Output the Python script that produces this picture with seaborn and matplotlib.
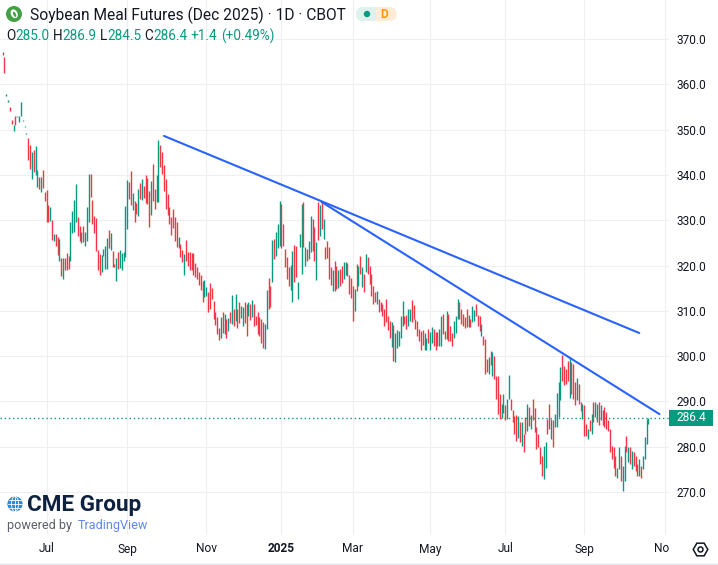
import numpy as np
import pandas as pd
import matplotlib
matplotlib.use("Agg")
import matplotlib.pyplot as plt
import seaborn as sns
from matplotlib.patches import Circle, Ellipse, FancyBboxPatch, Rectangle
from matplotlib.font_manager import FontProperties

# ---------------------------------------------------------------- data
title = "Soybean Meal Futures (Dec 2025) · 1D · CBOT"
last_date = "2025-10-21"
cbot_holidays = ["2024-06-19", "2024-07-04", "2024-09-02", "2024-11-28", "2024-12-25",
                 "2025-01-01", "2025-01-09", "2025-01-20", "2025-02-17", "2025-04-18",
                 "2025-05-26", "2025-06-19", "2025-07-04", "2025-09-01"]

opens = [
    # late May - Jun 2024
    367.2, 366.1, 357.5, 356.2, 355.0, 352.1, 349.8, 353.0, 352.8, 351.6, 352.9, 351.9,
    350.6, 349.0, 348.2, 346.6, 339.0, 345.4, 340.0, 337.3, 339.5, 336.3, 341.1, 336.3,
    # Jul - Aug 2024
    336.7, 333.4, 329.9, 330.1, 325.5, 327.0, 326.3, 321.1, 321.7, 317.1, 321.7, 322.8,
    322.1, 320.9, 327.1, 327.4, 329.7, 330.7, 328.7, 325.0, 328.7, 324.2, 325.3, 329.6,
    340.2, 334.5, 331.0, 330.5, 323.5, 322.6, 318.5, 322.1, 319.3, 319.3, 327.9, 323.5,
    323.2, 320.4, 316.5, 322.9, 319.4, 318.9, 320.9,
    # Sep - Oct 2024
    321.8, 328.1, 338.4, 340.8, 332.3, 334.3, 333.7, 331.0, 338.2, 334.5, 337.6, 339.9,
    339.3, 336.5, 331.2, 342.4, 336.9, 334.1, 334.1, 346.5, 345.0, 342.2, 339.1, 335.8,
    332.9, 330.7, 332.5, 330.7, 329.6, 323.8, 324.7, 323.5, 318.0, 325.6, 322.9, 322.9,
    322.8, 322.8, 320.6, 319.6, 318.5, 317.9, 316.6,
    # Nov - Dec 2024
    313.0, 313.2, 314.1, 316.1, 315.1, 312.2, 309.8, 308.7, 306.3, 304.1, 309.7, 304.9,
    308.2, 305.6, 309.7, 307.1, 310.4, 307.8, 310.5, 311.9, 308.4, 306.6, 311.9, 311.5,
    308.8, 311.5, 308.6, 311.5, 308.9, 309.7, 308.6, 308.3, 307.5, 301.6, 306.0, 317.2,
    315.5, 316.4, 325.8, 322.2, 323.9,
    # Jan - Feb 2025
    324.2, 333.6, 329.2, 323.6, 321.8, 319.6, 314.7, 312.0, 324.5, 324.4, 312.6, 324.0,
    318.1, 334.0, 320.0, 323.6, 321.4, 322.9, 330.3, 328.4, 316.9, 334.0, 326.6, 334.3,
    325.9, 324.0, 325.5, 324.0, 319.6, 314.4, 321.1, 319.8, 315.0, 319.2, 320.0, 317.0,
    317.8, 320.5, 317.8, 317.2,
    # Mar - Apr 2025
    315.5, 310.0, 320.3, 315.5, 322.2, 315.2, 318.1, 318.5, 321.8, 320.0, 318.1, 315.5,
    314.2, 311.5, 312.6, 311.9, 311.5, 310.5, 312.6, 308.9, 307.8, 301.9, 306.8, 298.8,
    301.7, 302.3, 303.9, 306.7, 308.8, 309.1, 306.7, 307.8, 312.4, 311.3, 308.2, 307.8,
    306.0, 305.6, 305.8, 301.4, 301.4, 306.0,
    # May - Jun 2025
    301.4, 302.9, 306.0, 305.4, 305.3, 302.2, 302.3, 309.3, 305.6, 303.8, 309.3, 306.7,
    305.1, 303.9, 305.2, 308.3, 311.9, 310.4, 309.3, 308.6, 310.5, 306.4, 308.2, 307.6,
    307.8, 311.6, 309.1, 308.9, 304.5, 304.5, 303.8, 299.4, 296.0, 301.2, 295.7, 300.1,
    295.7, 295.7, 291.6, 286.3, 287.4,
    # Jul - Aug 2025
    289.3, 286.1, 290.5, 290.5, 288.0, 286.7, 286.9, 281.9, 285.4, 280.2, 282.8, 286.5,
    283.5, 288.7, 283.9, 290.5, 288.5, 284.3, 282.8, 279.9, 278.0, 272.9, 275.4, 286.1,
    289.4, 281.7, 285.8, 284.3, 284.3, 286.5, 290.2, 300.2, 297.9, 297.2, 299.0, 290.7,
    298.6, 298.3, 294.2, 290.2, 293.8, 289.8, 286.1,
    # Sep - Oct 2025
    289.1, 285.0, 281.7, 285.8, 282.8, 289.8, 286.5, 285.4, 289.8, 285.8, 288.0, 288.7,
    287.6, 285.8, 283.9, 280.2, 279.9, 278.0, 273.2, 275.1, 278.0, 270.3, 272.5, 282.3,
    276.6, 279.9, 275.1, 278.8, 278.0, 276.2, 273.6, 275.8, 275.1, 277.3, 280.6, 285.0,
]

closes = [
    # late May - Jun 2024
    366.5, 362.6, 357.8, 356.5, 354.2, 351.2, 351.0, 351.0, 353.0, 352.9, 356.2, 352.2,
    350.9, 349.3, 343.2, 341.3, 345.1, 340.6, 346.4, 341.1, 336.9, 339.6, 337.1, 334.3,
    # Jul - Aug 2024
    329.6, 329.7, 333.0, 325.7, 327.0, 324.4, 322.4, 325.9, 317.6, 321.7, 318.9, 319.0,
    319.3, 329.6, 332.1, 334.5, 337.9, 326.6, 325.5, 327.5, 325.1, 327.4, 332.9, 340.1,
    335.1, 329.2, 327.2, 323.1, 318.9, 317.8, 322.4, 323.7, 324.2, 326.0, 323.8, 327.2,
    319.6, 319.6, 321.7, 319.3, 323.5, 322.8, 322.9,
    # Sep - Oct 2024
    333.2, 338.9, 334.7, 333.4, 336.0, 329.6, 331.4, 336.9, 334.7, 339.1, 334.9, 333.8,
    333.5, 328.6, 338.6, 334.3, 332.5, 340.0, 347.6, 341.8, 340.2, 336.5, 332.5, 331.2,
    329.2, 326.8, 328.2, 325.3, 324.0, 326.4, 321.8, 320.7, 322.5, 321.1, 320.0, 319.1,
    319.1, 318.0, 317.4, 317.0, 315.8, 314.7, 312.0,
    # Nov - Dec 2024
    316.8, 315.3, 309.8, 310.4, 312.5, 308.2, 306.9, 304.9, 303.5, 308.6, 305.2, 309.3,
    304.1, 308.4, 307.3, 313.5, 306.6, 313.7, 306.3, 307.4, 311.1, 310.8, 307.4, 304.5,
    312.0, 308.0, 312.4, 306.7, 306.9, 304.9, 304.4, 302.9, 301.7, 307.1, 314.6, 310.5,
    310.8, 325.6, 321.4, 327.5, 329.2,
    # Jan - Feb 2025
    334.3, 323.9, 324.2, 319.6, 317.0, 315.5, 320.1, 323.3, 316.4, 317.4, 316.4, 327.0,
    333.6, 324.0, 324.0, 321.1, 325.5, 331.0, 323.3, 321.1, 325.1, 325.7, 333.4, 328.1,
    330.3, 321.4, 321.6, 317.0, 315.8, 318.9, 314.4, 314.8, 319.1, 315.5, 316.1, 320.7,
    320.7, 317.6, 313.7, 312.8,
    # Mar - Apr 2025
    307.8, 314.8, 314.4, 320.0, 318.1, 319.6, 314.1, 322.5, 318.1, 315.9, 313.3, 311.5,
    311.9, 314.4, 309.7, 310.0, 308.8, 306.7, 307.5, 305.8, 304.1, 307.6, 299.0, 305.0,
    305.8, 305.6, 308.8, 312.2, 307.1, 306.0, 310.5, 310.4, 307.6, 308.3, 306.0, 304.5,
    303.4, 301.4, 302.5, 305.1, 304.1, 302.9,
    # May - Jun 2025
    305.4, 306.4, 302.3, 301.3, 302.3, 306.0, 308.8, 304.9, 303.8, 310.0, 303.4, 303.4,
    302.3, 307.8, 308.9, 312.6, 308.2, 307.1, 306.7, 306.1, 306.4, 309.1, 306.4, 311.1,
    310.2, 308.8, 306.7, 305.6, 307.1, 302.5, 296.0, 296.6, 299.7, 298.0, 300.8, 295.0,
    290.5, 287.2, 286.1, 289.4, 291.6,
    # Jul - Aug 2025
    285.8, 290.5, 295.9, 288.2, 285.4, 282.8, 281.3, 286.7, 281.0, 285.4, 278.8, 282.8,
    289.4, 284.6, 286.9, 285.8, 283.2, 279.5, 279.9, 276.2, 273.6, 280.2, 281.0, 282.8,
    283.9, 286.1, 279.9, 287.2, 291.9, 294.2, 297.5, 294.6, 293.6, 293.8, 294.6, 299.7,
    291.6, 290.5, 289.1, 295.1, 289.4, 287.9, 289.4,
    # Sep - Oct 2025
    282.4, 282.4, 283.9, 283.5, 287.2, 285.4, 289.8, 289.4, 284.8, 289.1, 284.8, 284.3,
    283.9, 283.5, 278.8, 277.3, 275.4, 273.6, 275.4, 279.9, 272.5, 275.8, 280.2, 278.8,
    279.9, 276.2, 279.1, 275.8, 274.7, 273.6, 277.3, 273.2, 277.9, 282.1, 286.1, 286.4,
]

last_ohlc = {"O": 285.0, "H": 286.9, "L": 284.5, "C": 286.4}
last_change = "+1.4"
last_change_pct = "(+0.49%)"
last_price = 286.4

price_ticks = [270, 280, 290, 300, 310, 320, 330, 340, 350, 360, 370]

# trend lines drawn by the author: (date, price) anchors
trend_a_dates = ["2024-10-01", "2025-10-14"]
trend_a_prices = [348.6, 305.1]
trend_b_dates = ["2025-02-05", "2025-10-29"]
trend_b_prices = [334.0, 287.2]

# ---------------------------------------------------------------- style
sns.set_theme(style="white")
FONT = ["Roboto", "DejaVu Sans"]
plt.rcParams["font.family"] = FONT

GREEN = "#089981"
RED = "#F23645"
BLUE = "#2962FF"
TXT = "#131722"
GRID = "#EDEFF3"

W, H = 718, 565
PANE_R, PANE_B = 669, 535          # chart pane right / bottom edge (px)
X0, DX = 2.5, 1.835                 # px of first bar, px per bar
Y370, PPU = 39.0, 4.53              # px of price 370, px per price unit

fig = plt.figure(figsize=(W / 100, H / 100), dpi=100)
fig.patch.set_facecolor("white")
renderer = fig.canvas.get_renderer()

n = min(len(opens), len(closes))
o = np.array(opens[:n])
c = np.array(closes[:n])

hol = pd.to_datetime(cbot_holidays)
cday = pd.offsets.CustomBusinessDay(holidays=hol)
dates = pd.date_range(end=last_date, periods=n, freq=cday)
future = pd.date_range(start=pd.Timestamp(last_date) + cday, periods=25, freq=cday)
all_dates = dates.append(future)
pos = {d: i for i, d in enumerate(all_dates)}

xlim = (-X0 / DX, (PANE_R - X0) / DX)
ylim = (370 - (PANE_B - Y370) / PPU, 370 + Y370 / PPU)

# ---------------------------------------------------------------- main pane
ax = fig.add_axes([0, 1 - PANE_B / H, PANE_R / W, PANE_B / H])
ax.set_facecolor("white")
ax.set_xlim(*xlim)
ax.set_ylim(*ylim)
for s in ax.spines.values():
    s.set_visible(False)

# month ticks (every second month, first trading day)
month_ticks = []
for i in range(1, len(all_dates)):
    d, p = all_dates[i], all_dates[i - 1]
    if d.month != p.month and d.month % 2 == 1:
        month_ticks.append((i, "2025" if d.month == 1 else d.strftime("%b"), d.month == 1))

for p in price_ticks:
    ax.axhline(p, color=GRID, lw=0.75, zorder=0)
for i, _, _ in month_ticks:
    ax.axvline(i, color=GRID, lw=0.75, zorder=0)

idx = np.arange(n)
up = c >= o
cols = np.where(up, GREEN, RED)
lo = np.minimum(o, c)
hi = np.maximum(o, c)
hi = np.where(hi - lo < 0.3, lo + 0.3, hi)
ax.vlines(idx, lo, hi, colors=cols, linewidth=1.0, zorder=3)

# last price dotted line
ax.axhline(last_price, color=GREEN, lw=1.0, ls=(0, (1, 2)), zorder=2)

# trend lines
trend_df = pd.DataFrame({
    "line": ["a", "a", "b", "b"],
    "date": pd.to_datetime(trend_a_dates + trend_b_dates),
    "price": trend_a_prices + trend_b_prices,
})
trend_df["x"] = trend_df["date"].map(pos).astype(float)
sns.lineplot(data=trend_df, x="x", y="price", units="line", estimator=None,
             sort=False, color=BLUE, linewidth=1.5, ax=ax, legend=False, zorder=4)
ax.set_xlabel("")
ax.set_ylabel("")
ax.set_xticks([])

# price scale on the right
ax.yaxis.tick_right()
ax.set_yticks(price_ticks)
ax.set_yticklabels([f"{p:.1f}" for p in price_ticks])
ax.tick_params(axis="y", length=0, pad=5.2, labelsize=8.6, labelcolor=TXT)
ax.set_xlim(*xlim)
ax.set_ylim(*ylim)

# ---------------------------------------------------------------- time axis strip
ax_t = fig.add_axes([0, 0, PANE_R / W, (H - PANE_B) / H])
ax_t.set_xlim(*xlim)
ax_t.set_ylim(0, 1)
ax_t.axis("off")
for i, lab, bold in month_ticks:
    ax_t.text(i, (H - 549) / (H - PANE_B), lab, ha="center", va="center",
              fontsize=8.6, color=TXT, fontweight="bold" if bold else "normal",
              clip_on=True)

# ---------------------------------------------------------------- overlay (pixel coords)
ax_o = fig.add_axes([0, 0, 1, 1], zorder=10)
ax_o.set_xlim(0, W)
ax_o.set_ylim(H, 0)
ax_o.axis("off")
ax_o.set_facecolor("none")


def px_w(s, size, weight="normal"):
    fp = FontProperties(family=FONT, size=size, weight=weight)
    w, h, d = renderer.get_text_width_height_descent(s, fp, ismath=False)
    return w


def fit_size(s, width, weight="normal"):
    return 10.0 * width / px_w(s, 10.0, weight)


# header logo
ax_o.add_patch(Circle((14, 14), 8, fc="#43A047", ec="none"))
ax_o.add_patch(Ellipse((14.2, 13.8), 6.6, 9.2, angle=-25, fc="white", ec="none"))
ax_o.add_patch(Ellipse((14.6, 14.3), 2.6, 5.6, angle=-25, fc="#43A047", ec="none"))

# title
ts = fit_size(title, 316)
ax_o.text(30, 15, title, fontsize=ts, color=TXT, ha="left", va="center")

# status pill
ax_o.add_patch(FancyBboxPatch((356, 7), 28, 14, boxstyle="round,pad=0,rounding_size=7",
                              fc="#DDF2EC", ec="none"))
ax_o.add_patch(FancyBboxPatch((370, 7), 26.5, 14, boxstyle="round,pad=0,rounding_size=7",
                              fc="#FFEBD6", ec="none"))
ax_o.add_patch(Rectangle((375.5, 7), 6, 14, fc="#FFEBD6", ec="none"))
ax_o.add_patch(Rectangle((370, 7), 5.5, 14, fc="#DDF2EC", ec="none"))
ax_o.add_patch(Circle((367, 14), 3.2, fc=GREEN, ec="none"))
ax_o.text(384, 14.5, "D", fontsize=8.6, color="#FF9800", fontweight="bold",
          ha="center", va="center")

# OHLC legend line
pieces = []
for k in ["O", "H", "L", "C"]:
    pieces.append((k, TXT, 0))
    pieces.append((f"{last_ohlc[k]:.1f}", GREEN, 1))
pieces.append((last_change, GREEN, 1))
pieces.append((last_change_pct, GREEN, 1))
base = 10.0
gap = px_w("a a", base) - px_w("aa", base)
tot = 0
for j, (s, col, g) in enumerate(pieces):
    tot += px_w(s, base) + (gap if (g and j < len(pieces) - 1) else 0)
fs = base * 267 / tot
gap = gap * fs / base
x = 6
for j, (s, col, g) in enumerate(pieces):
    ax_o.text(x, 36, s, fontsize=fs, color=col, ha="left", va="center")
    x += px_w(s, fs) + (gap if g else 0)

# last price label
ax_o.add_patch(Rectangle((PANE_R, 409.5), 44, 16, fc=GREEN, ec="none"))
ax_o.text(691, 417.5, f"{last_price:.1f}", fontsize=8.6, color="white",
          ha="center", va="center")

# CME Group logo
ax_o.add_patch(Circle((15, 504), 7.6, fc="#2A8AD8", ec="none"))
ax_o.add_patch(Ellipse((15, 504), 7.0, 15.2, fc="none", ec="white", lw=0.6))
ax_o.plot([15, 15], [496.5, 511.5], color="white", lw=0.6)
ax_o.plot([8, 22], [504, 504], color="white", lw=0.6)
ax_o.plot([9.2, 20.8], [500, 500], color="white", lw=0.6)
ax_o.plot([9.2, 20.8], [508, 508], color="white", lw=0.6)
cs = fit_size("CME Group", 114, "bold")
ax_o.text(27, 505, "CME Group", fontsize=cs, color="#0E2240", fontweight="bold",
          ha="left", va="center")
ps = fit_size("powered by", 65)
ax_o.text(7, 525, "powered by", fontsize=ps, color="#5D606B", ha="left", va="center")
tvs = fit_size("TradingView", 70)
ax_o.text(78, 525, "TradingView", fontsize=tvs, color="#6286F5", ha="left", va="center")

# settings icon
ax_o.plot(700, 549, marker="H", ms=10.5, mfc="none", mec=TXT, mew=1.1)
ax_o.plot(700, 549, marker="o", ms=3.6, mfc="none", mec=TXT, mew=1.1)

# bottom border
ax_o.plot([0, W], [563.5, 563.5], color="#E0E3EB", lw=1.0)

fig.savefig("out.png", dpi=100, facecolor="white")
